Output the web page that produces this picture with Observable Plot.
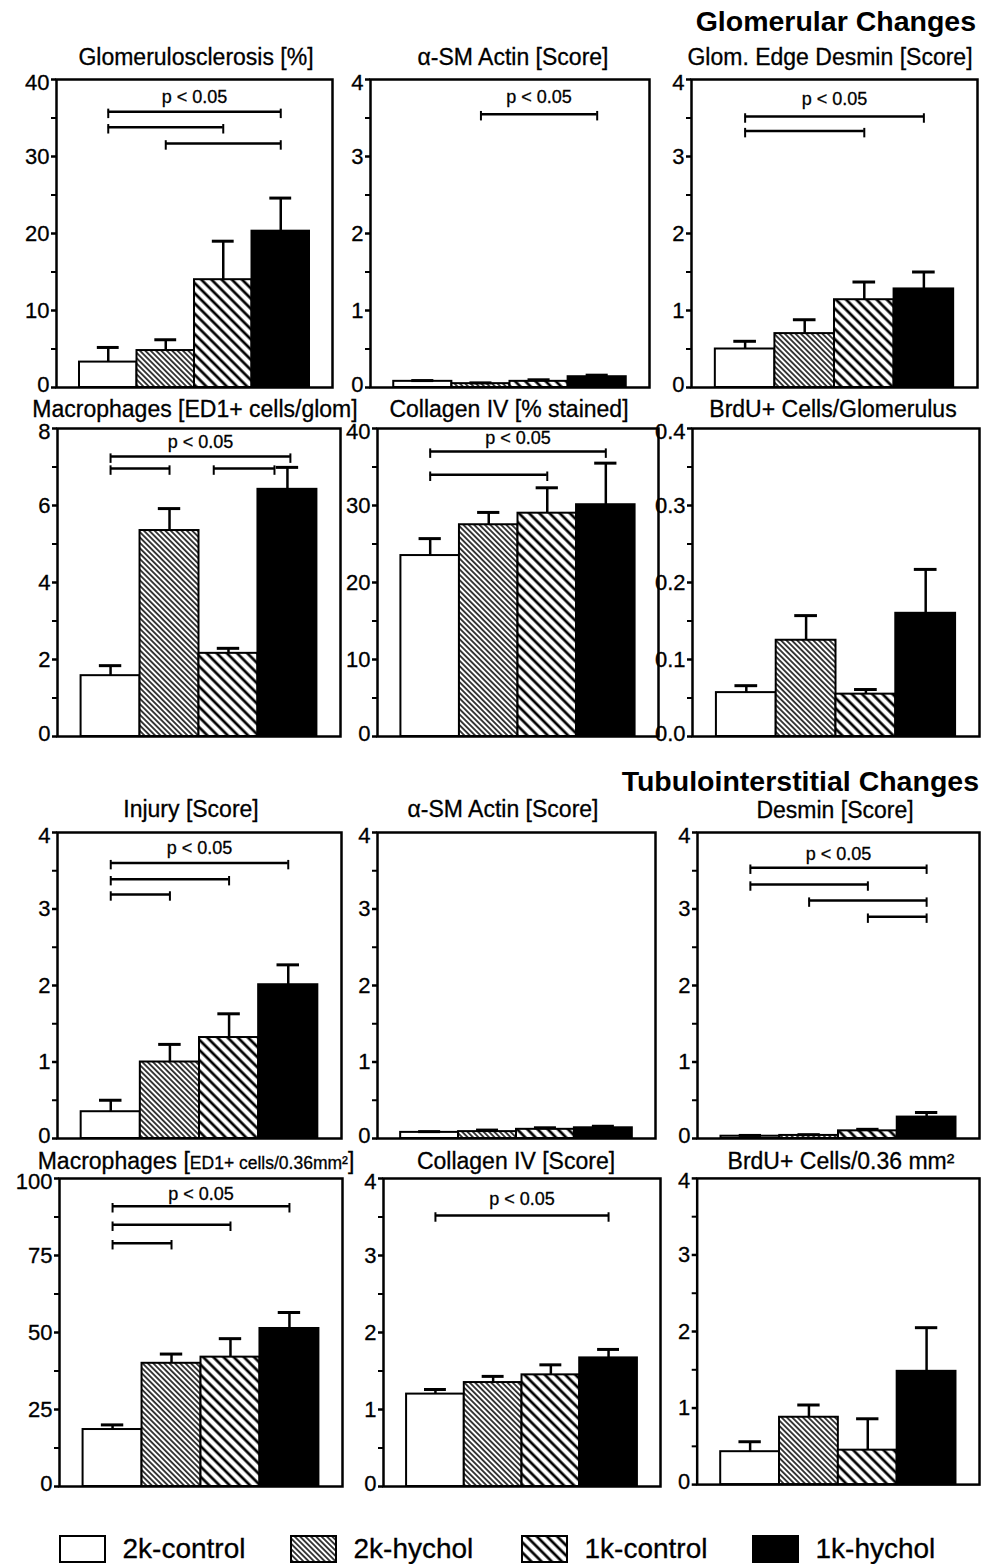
<!DOCTYPE html>
<html>
<head>
<meta charset="utf-8">
<script src="https://cdn.jsdelivr.net/npm/d3@7"></script>
<script src="https://cdn.jsdelivr.net/npm/@observablehq/plot@0.6"></script>
<style>
  html, body { margin: 0; padding: 0; background: #fff; }
  #root { position: relative; width: 983px; height: 1564px; overflow: hidden; background: #fff;
          font-family: "Liberation Sans", Arial, Helvetica, sans-serif; color: #000; }
  .panel { position: absolute; }
  .ttl { position: absolute; font-size: 23px; white-space: nowrap; line-height: 1; transform: translate(-50%, -50%); -webkit-text-stroke: 0.3px #000; }
  .sec { position: absolute; font-size: 28.5px; font-weight: bold; white-space: nowrap; line-height: 1; transform: translate(-100%, -50%); }
  .small { font-size: 17.5px; }
  svg text { stroke: #000; stroke-width: 0.3px; }
</style>
</head>
<body>
<svg width="0" height="0" style="position:absolute">
  <defs>
    <pattern id="hatchDense" patternUnits="userSpaceOnUse" width="3.8" height="3.8" patternTransform="rotate(-45)">
      <rect width="3.8" height="3.8" fill="white"></rect>
      <line x1="1.9" y1="0" x2="1.9" y2="3.8" stroke="black" stroke-width="1.5"></line>
    </pattern>
    <pattern id="hatchSparse" patternUnits="userSpaceOnUse" width="7.2" height="7.2" patternTransform="rotate(-45)">
      <rect width="7.2" height="7.2" fill="white"></rect>
      <line x1="3.6" y1="0" x2="3.6" y2="7.2" stroke="black" stroke-width="2.7"></line>
    </pattern>
  </defs>
</svg>
<div id="root"></div>
<script>
// ---------------- DATA ----------------
const groups = ["2k-control", "2k-hychol", "1k-control", "1k-hychol"];
const pLabel = "p < 0.05";
const sectionTitles = ["Glomerular Changes", "Tubulointerstitial Changes"];

// Glomerular changes
const glomSclerosisMean  = [3.3, 4.8, 14.0, 20.3];
const glomSclerosisUpper = [5.2, 6.2, 19.0, 24.6];
const glomSclerosisSig   = [[0, 3, 35.8], [0, 2, 33.8], [1, 3, 31.7]];

const glomActinMean  = [0.08, 0.05, 0.08, 0.14];
const glomActinUpper = [0.09, 0.06, 0.10, 0.16];
const glomActinSig   = [[1, 3, 3.55]];

const glomDesminMean  = [0.50, 0.70, 1.14, 1.28];
const glomDesminUpper = [0.60, 0.88, 1.37, 1.50];
const glomDesminSig   = [[0, 3, 3.52], [0, 2, 3.33]];

const glomMacroMean  = [1.58, 5.35, 2.16, 6.42];
const glomMacroUpper = [1.84, 5.92, 2.29, 6.99];
const glomMacroSig   = [[0, 3.05, 7.27], [0, 1, 6.96], [1.75, 2.78, 6.96]];

const glomCollagenMean  = [23.5, 27.5, 29.0, 30.1];
const glomCollagenUpper = [25.7, 29.1, 32.3, 35.5];
const glomCollagenSig   = [[0, 3, 37.0], [0, 2, 34.0]];

const glomBrduMean  = [0.057, 0.125, 0.055, 0.160];
const glomBrduUpper = [0.066, 0.157, 0.061, 0.217];
const glomBrduSig   = [];

// Tubulointerstitial changes
const tubInjuryMean  = [0.35, 1.00, 1.32, 2.01];
const tubInjuryUpper = [0.50, 1.23, 1.63, 2.27];
const tubInjurySig   = [[0, 3, 3.60], [0, 2, 3.39], [0, 1, 3.19]];

const tubActinMean  = [0.08, 0.09, 0.12, 0.14];
const tubActinUpper = [0.09, 0.11, 0.14, 0.16];
const tubActinSig   = [];

const tubDesminMean  = [0.03, 0.04, 0.10, 0.28];
const tubDesminUpper = [0.04, 0.05, 0.12, 0.34];
const tubDesminSig   = [[0, 3, 3.54], [0, 2, 3.32], [1, 3, 3.11], [2, 3, 2.90]];

const tubMacroMean  = [18.5, 40.0, 42.0, 51.3];
const tubMacroUpper = [20.0, 43.0, 48.0, 56.5];
const tubMacroSig   = [[0, 3, 91], [0, 2, 85], [0, 1, 79]];

const tubCollagenMean  = [1.20, 1.35, 1.45, 1.67];
const tubCollagenUpper = [1.26, 1.43, 1.58, 1.78];
const tubCollagenSig   = [[0, 3, 3.52]];

const tubBrduMean  = [0.43, 0.88, 0.45, 1.48];
const tubBrduUpper = [0.56, 1.04, 0.86, 2.05];
const tubBrduSig   = [];

// tick values
const ticks40  = [0, 10, 20, 30, 40];
const ticks4   = [0, 1, 2, 3, 4];
const ticks8   = [0, 2, 4, 6, 8];
const ticks04  = [0, 0.1, 0.2, 0.3, 0.4];
const ticks100 = [0, 25, 50, 75, 100];

// ---------------- LAYOUT / STYLE ----------------
const groupFill = ["white", "url(#hatchDense)", "url(#hatchSparse)", "black"];
const FONT = "'Liberation Sans', Arial, Helvetica, sans-serif";

const panels = [
  {title: "Glomerulosclerosis [%]", tx: 196, ty: 57, mean: glomSclerosisMean, upper: glomSclerosisUpper, sig: glomSclerosisSig, pY: 37.7, ticks: ticks40, fl: 56, fr: 332, ft: 79, fb: 387},
  {title: "α-SM Actin [Score]", tx: 513, ty: 57, mean: glomActinMean, upper: glomActinUpper, sig: glomActinSig, pY: 3.77, ticks: ticks4, fl: 370, fr: 649, ft: 79, fb: 387},
  {title: "Glom. Edge Desmin [Score]", tx: 830, ty: 57, mean: glomDesminMean, upper: glomDesminUpper, sig: glomDesminSig, pY: 3.75, ticks: ticks4, fl: 691, fr: 977, ft: 79, fb: 387},
  {title: "Macrophages [ED1+ cells/glom]", tx: 195, ty: 409, mean: glomMacroMean, upper: glomMacroUpper, sig: glomMacroSig, pY: 7.64, ticks: ticks8, fl: 57, fr: 340, ft: 428, fb: 736},
  {title: "Collagen IV [% stained]", tx: 509, ty: 409, mean: glomCollagenMean, upper: glomCollagenUpper, sig: glomCollagenSig, pY: 38.8, ticks: ticks40, fl: 377, fr: 658, ft: 428, fb: 736},
  {title: "BrdU+ Cells/Glomerulus", tx: 833, ty: 409, mean: glomBrduMean, upper: glomBrduUpper, sig: glomBrduSig, pY: 0, ticks: ticks04, fmt: d3.format(".1f"), fl: 692, fr: 979, ft: 428, fb: 736},
  {title: "Injury [Score]", tx: 191, ty: 809, mean: tubInjuryMean, upper: tubInjuryUpper, sig: tubInjurySig, pY: 3.79, ticks: ticks4, fl: 57, fr: 341, ft: 832, fb: 1138},
  {title: "α-SM Actin [Score]", tx: 503, ty: 809, mean: tubActinMean, upper: tubActinUpper, sig: tubActinSig, pY: 0, ticks: ticks4, fl: 377, fr: 655, ft: 832, fb: 1138},
  {title: "Desmin [Score]", tx: 835, ty: 810, mean: tubDesminMean, upper: tubDesminUpper, sig: tubDesminSig, pY: 3.72, ticks: ticks4, fl: 697, fr: 979, ft: 832, fb: 1138},
  {titleHTML: "Macrophages [<span class='small'>ED1+ cells/0.36mm²</span>]", tx: 196, ty: 1161, mean: tubMacroMean, upper: tubMacroUpper, sig: tubMacroSig, pY: 95, ticks: ticks100, fl: 59, fr: 342, ft: 1178, fb: 1486},
  {title: "Collagen IV [Score]", tx: 516, ty: 1161, mean: tubCollagenMean, upper: tubCollagenUpper, sig: tubCollagenSig, pY: 3.73, ticks: ticks4, fl: 383, fr: 660, ft: 1178, fb: 1486},
  {title: "BrdU+ Cells/0.36 mm²", tx: 841, ty: 1161, mean: tubBrduMean, upper: tubBrduUpper, sig: tubBrduSig, pY: 0, ticks: ticks4, fl: 697, fr: 981, ft: 1178, fb: 1486}
];

const root = document.getElementById("root");

function addDiv(cls, x, y, html) {
  const d = document.createElement("div");
  d.className = cls;
  d.style.left = x + "px";
  d.style.top = y + "px";
  d.innerHTML = html;
  root.appendChild(d);
}

addDiv("sec", 976, 21, sectionTitles[0]);
addDiv("sec", 979, 781, sectionTitles[1]);

const mL = 54, mT = 14, mR = 4, mB = 8;

for (const p of panels) {
  const ymax = p.ticks[p.ticks.length - 1];
  const step = p.ticks[1] - p.ticks[0];
  const minor = p.ticks.slice(0, -1).map(t => t + step / 2);
  const data = groups.map((g, i) => ({i, g, mean: p.mean[i], upper: p.upper[i], fill: groupFill[i]}));
  const sig = p.sig.map(([a, b, lvl]) => ({a, b, lvl}));
  const tk = ymax * 0.022;
  const fmt = p.fmt || (d => String(d));
  const labelOpts = {tickSize: 0, tickPadding: 7, fontSize: 22, stroke: "black", strokeWidth: 0.3, tickFormat: fmt, label: null};
  const marks = [
    Plot.rect(data, {x1: d => d.i - 0.5, x2: d => d.i + 0.5, y1: 0, y2: "mean", fill: "fill", stroke: "black", strokeWidth: 2}),
    Plot.ruleX(data, {x: "i", y1: "mean", y2: "upper", stroke: "black", strokeWidth: 2.5}),
    Plot.ruleY(data, {x1: d => d.i - 0.19, x2: d => d.i + 0.19, y: "upper", stroke: "black", strokeWidth: 3}),
    Plot.ruleY(sig, {x1: "a", x2: "b", y: "lvl", stroke: "black", strokeWidth: 2.5}),
    Plot.ruleX(sig, {x: "a", y1: d => d.lvl + tk * 0.4, y2: d => d.lvl - tk, stroke: "black", strokeWidth: 2}),
    Plot.ruleX(sig, {x: "b", y1: d => d.lvl + tk * 0.4, y2: d => d.lvl - tk, stroke: "black", strokeWidth: 2}),
    // tick marks (major + minor), no labels
    Plot.axisY({ticks: p.ticks, tickSize: 5, stroke: "black", strokeWidth: 2.5, tickFormat: () => "", label: null}),
    Plot.axisY({ticks: minor, tickSize: 5, stroke: "black", strokeWidth: 2, tickFormat: () => "", label: null}),
    // tick labels: zero nudged up, top nudged down (as in the scan)
    Plot.axisY({...labelOpts, ticks: p.ticks.slice(0, 1), dy: -3}),
    Plot.axisY({...labelOpts, ticks: p.ticks.slice(1, -1), dy: 0}),
    Plot.axisY({...labelOpts, ticks: p.ticks.slice(-1), dy: 3}),
    Plot.frame({stroke: "black", strokeWidth: 2.5})
  ];
  if (sig.length) {
    marks.push(Plot.text([sig[0]], {x: d => (d.a + d.b) / 2, y: () => p.pY, text: () => pLabel, fontSize: 18, fill: "black"}));
  }
  const W = p.fr - p.fl, H = p.fb - p.ft;
  const chart = Plot.plot({
    width: W + mL + mR,
    height: H + mT + mB,
    marginLeft: mL, marginRight: mR, marginTop: mT, marginBottom: mB,
    x: {domain: [-0.9, 3.9], axis: null},
    y: {domain: [0, ymax], axis: null, label: null},
    color: {type: "identity"},
    style: {fontFamily: FONT, fontSize: "22px", background: "none", overflow: "visible", color: "black"},
    marks
  });
  const wrap = document.createElement("div");
  wrap.className = "panel";
  wrap.style.left = (p.fl - mL) + "px";
  wrap.style.top = (p.ft - mT) + "px";
  wrap.appendChild(chart);
  root.appendChild(wrap);
  addDiv("ttl", p.tx, p.ty, p.titleHTML || p.title);
}

// Legend
const legendData = groups.map((g, i) => ({i, g, fill: groupFill[i]}));
const legend = Plot.plot({
  width: 983, height: 44,
  marginLeft: 0, marginRight: 0, marginTop: 0, marginBottom: 0,
  x: {domain: [0, 4], range: [60, 984], axis: null},
  y: {domain: [0, 1], range: [38, 12], axis: null},
  color: {type: "identity"},
  style: {fontFamily: FONT, background: "none", overflow: "visible", color: "black"},
  marks: [
    Plot.rect(legendData, {x1: "i", x2: d => d.i + 1, y1: 0, y2: 1, insetRight: 186, fill: "fill", stroke: "black", strokeWidth: 2}),
    Plot.text(legendData, {x: "i", y: () => 0.5, text: "g", dx: 62, textAnchor: "start", fontSize: 28, fill: "black"})
  ]
});
const lw = document.createElement("div");
lw.className = "panel";
lw.style.left = "0px";
lw.style.top = "1524px";
lw.appendChild(legend);
root.appendChild(lw);
</script>
</body>
</html>
